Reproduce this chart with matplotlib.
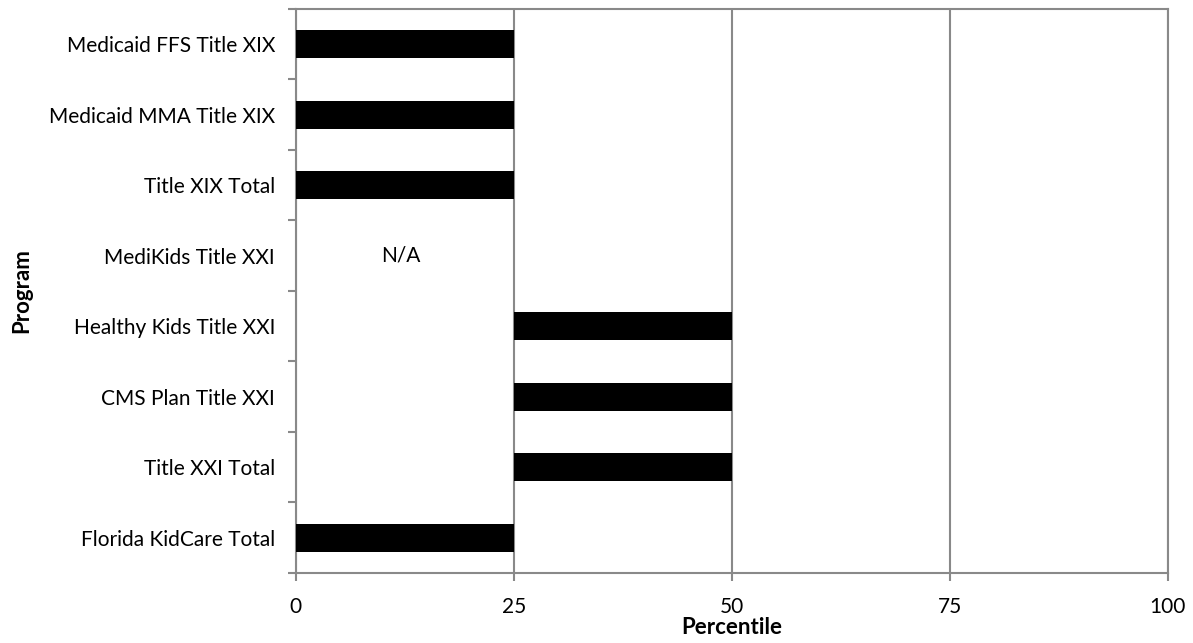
import matplotlib.pyplot as plt
import numpy as np

programs = ['Medicaid FFS Title XIX', 'Medicaid MMA Title XIX', 'Title XIX Total',
            'MediKids Title XXI', 'Healthy Kids Title XXI', 'CMS Plan Title XXI',
            'Title XXI Total', 'Florida KidCare Total']
low = [0, 0, 0, np.nan, 25, 25, 25, 0]
high = [25, 25, 25, np.nan, 50, 50, 50, 25]
xticks = [0, 25, 50, 75, 100]

plt.rcParams['font.family'] = ['Lato', 'DejaVu Sans']

fig = plt.figure(figsize=(11.93, 6.43), dpi=100)
ax = fig.add_axes([0.248, 0.109, 0.731, 0.877])

y = np.arange(len(programs))[::-1]
widths = np.array(high) - np.array(low)
ax.barh(y, widths, left=low, height=0.4, color='black', zorder=3)
ax.text(12, y[3], 'N/A', ha='center', va='center', fontsize=15)

ax.set_xlim(0, 100)
ax.set_ylim(-0.5, len(programs) - 0.5)
ax.set_xticks(xticks)
ax.set_xticklabels([str(v) for v in xticks], fontsize=15)
ax.set_yticks(y)
ax.set_yticklabels(programs, fontsize=15)
ax.set_yticks(np.arange(-0.5, len(programs), 1), minor=True)
ax.tick_params(axis='y', which='major', length=0, pad=15)
ax.tick_params(axis='y', which='minor', length=6, color='#898989', width=1.5)
ax.tick_params(axis='x', length=6, color='#898989', width=1.5, pad=11)

ax.grid(axis='x', color='#898989', linewidth=1.5, zorder=0)
for s in ax.spines.values():
    s.set_color('#898989')
    s.set_linewidth(1.5)

ax.set_xlabel('Percentile', fontsize=16, fontweight='bold', labelpad=0)
ax.set_ylabel('Program', fontsize=16, fontweight='bold', labelpad=12)

plt.savefig('out.png', dpi=100)
